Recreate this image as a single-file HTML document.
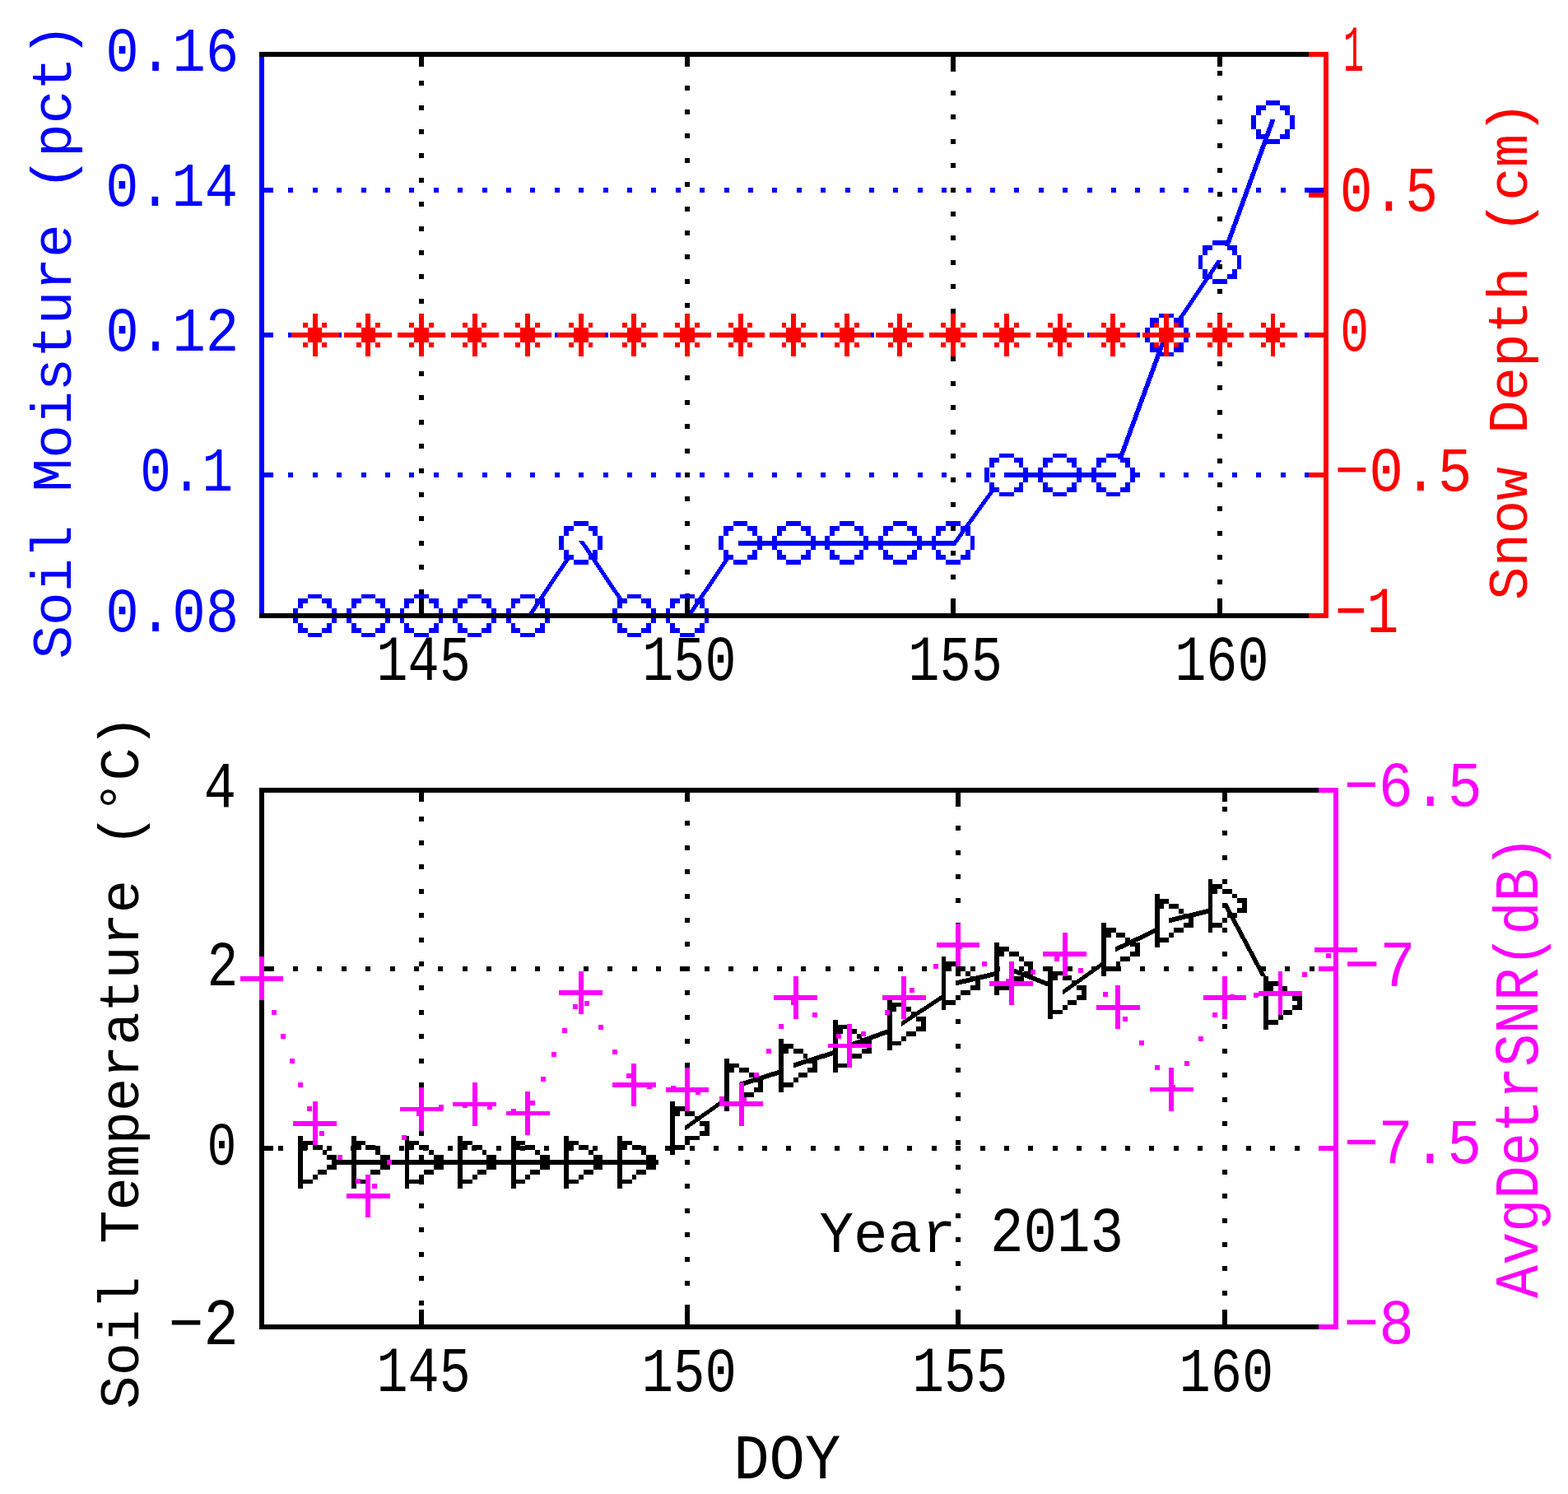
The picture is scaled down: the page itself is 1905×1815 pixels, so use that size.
<!DOCTYPE html><html><head><meta charset="utf-8"><title>Soil moisture / snow depth / soil temperature</title>
<style>html,body{margin:0;padding:0;background:#fff;overflow:hidden}svg{display:block}text{font-family:"Liberation Mono","DejaVu Sans Mono",monospace}</style></head><body>
<svg width="1905" height="1815" viewBox="0 0 1905 1815" shape-rendering="crispEdges">
<rect width="1905" height="1815" fill="#fff"/>
<line x1="512" y1="69" x2="512" y2="745" stroke="#000" stroke-width="6" stroke-dasharray="6 23.4" stroke-dashoffset="0.2"/>
<line x1="835" y1="69" x2="835" y2="745" stroke="#000" stroke-width="6" stroke-dasharray="6 23.4" stroke-dashoffset="-5.2"/>
<line x1="1158" y1="69" x2="1158" y2="745" stroke="#000" stroke-width="6" stroke-dasharray="6 23.4" stroke-dashoffset="-11.5"/>
<line x1="1482" y1="69" x2="1482" y2="745" stroke="#000" stroke-width="6" stroke-dasharray="6 23.4" stroke-dashoffset="-17.2"/>
<line x1="321" y1="231" x2="1608" y2="231" stroke="#0000ff" stroke-width="6" stroke-dasharray="6 23.4" stroke-dashoffset="0"/>
<line x1="321" y1="407" x2="1608" y2="407" stroke="#0000ff" stroke-width="6" stroke-dasharray="6 23.4" stroke-dashoffset="0"/>
<line x1="321" y1="577" x2="1608" y2="577" stroke="#0000ff" stroke-width="6" stroke-dasharray="6 23.4" stroke-dashoffset="0"/>
<path fill="#0000ff" d="M379.7 745.0L450.3 745.0L450.3 751.0L379.7 751.0zM444.3 745.0L515.0 745.0L515.0 751.0L444.3 751.0zM509.0 745.0L579.6 745.0L579.6 751.0L509.0 751.0zM573.6 745.0L644.2 745.0L644.2 751.0L573.6 751.0zM688.7 675.9L694.7 675.9L644.2 751.0L638.2 751.0zM702.8 656.5L708.8 656.5L759.3 731.6L753.3 731.6zM767.4 745.0L838.0 745.0L838.0 751.0L767.4 751.0zM882.5 675.9L888.5 675.9L838.0 751.0L832.0 751.0zM896.6 656.5L967.2 656.5L967.2 662.5L896.6 662.5zM961.2 656.5L1031.8 656.5L1031.8 662.5L961.2 662.5zM1025.8 656.5L1096.4 656.5L1096.4 662.5L1025.8 662.5zM1090.4 656.5L1161.0 656.5L1161.0 662.5L1090.4 662.5zM1205.0 592.9L1211.0 592.9L1161.0 662.5L1155.0 662.5zM1219.8 574.0L1290.6 574.0L1290.6 580.0L1219.8 580.0zM1284.6 574.0L1355.4 574.0L1355.4 580.0L1284.6 580.0zM1414.2 404.0L1420.2 404.0L1363.9 557.6L1357.9 557.6zM1479.0 315.5L1485.0 315.5L1434.4 390.6L1428.4 390.6zM1543.5 145.4L1549.5 145.4L1493.5 299.1L1487.5 299.1z"/>
<path fill="#0000ff" d="M374 722h6v5h-6zM380 722h6v5h-6zM386 722h5v5h-5zM362 727h6v6h-6zM368 727h6v6h-6zM391 727h6v6h-6zM397 727h6v6h-6zM362 733h6v6h-6zM397 733h6v6h-6zM356 739h6v6h-6zM403 739h6v6h-6zM356 745h6v6h-6zM403 745h6v6h-6zM356 751h6v6h-6zM403 751h6v6h-6zM362 757h6v6h-6zM397 757h6v6h-6zM362 763h6v6h-6zM368 763h6v6h-6zM391 763h6v6h-6zM397 763h6v6h-6zM374 769h6v5h-6zM380 769h6v5h-6zM386 769h5v5h-5zM439 722h5v5h-5zM444 722h6v5h-6zM450 722h6v5h-6zM427 727h6v6h-6zM433 727h6v6h-6zM456 727h6v6h-6zM462 727h6v6h-6zM427 733h6v6h-6zM462 733h6v6h-6zM421 739h6v6h-6zM468 739h6v6h-6zM421 745h6v6h-6zM468 745h6v6h-6zM421 751h6v6h-6zM468 751h6v6h-6zM427 757h6v6h-6zM462 757h6v6h-6zM427 763h6v6h-6zM433 763h6v6h-6zM456 763h6v6h-6zM462 763h6v6h-6zM439 769h5v5h-5zM444 769h6v5h-6zM450 769h6v5h-6zM503 722h6v5h-6zM509 722h6v5h-6zM515 722h6v5h-6zM491 727h6v6h-6zM497 727h6v6h-6zM521 727h6v6h-6zM527 727h6v6h-6zM491 733h6v6h-6zM527 733h6v6h-6zM486 739h5v6h-5zM533 739h5v6h-5zM486 745h5v6h-5zM533 745h5v6h-5zM486 751h5v6h-5zM533 751h5v6h-5zM491 757h6v6h-6zM527 757h6v6h-6zM491 763h6v6h-6zM497 763h6v6h-6zM521 763h6v6h-6zM527 763h6v6h-6zM503 769h6v5h-6zM509 769h6v5h-6zM515 769h6v5h-6zM568 722h6v5h-6zM574 722h6v5h-6zM580 722h5v5h-5zM556 727h6v6h-6zM562 727h6v6h-6zM585 727h6v6h-6zM591 727h6v6h-6zM556 733h6v6h-6zM591 733h6v6h-6zM550 739h6v6h-6zM597 739h6v6h-6zM550 745h6v6h-6zM597 745h6v6h-6zM550 751h6v6h-6zM597 751h6v6h-6zM556 757h6v6h-6zM591 757h6v6h-6zM556 763h6v6h-6zM562 763h6v6h-6zM585 763h6v6h-6zM591 763h6v6h-6zM568 769h6v5h-6zM574 769h6v5h-6zM580 769h5v5h-5zM632 722h6v5h-6zM638 722h6v5h-6zM644 722h6v5h-6zM621 727h5v6h-5zM626 727h6v6h-6zM650 727h6v6h-6zM656 727h6v6h-6zM621 733h5v6h-5zM656 733h6v6h-6zM615 739h6v6h-6zM662 739h6v6h-6zM615 745h6v6h-6zM662 745h6v6h-6zM615 751h6v6h-6zM662 751h6v6h-6zM621 757h5v6h-5zM656 757h6v6h-6zM621 763h5v6h-5zM626 763h6v6h-6zM650 763h6v6h-6zM656 763h6v6h-6zM632 769h6v5h-6zM638 769h6v5h-6zM644 769h6v5h-6zM697 633h6v6h-6zM703 633h6v6h-6zM709 633h6v6h-6zM685 639h6v6h-6zM691 639h6v6h-6zM715 639h5v6h-5zM720 639h6v6h-6zM685 645h6v6h-6zM720 645h6v6h-6zM679 651h6v6h-6zM726 651h6v6h-6zM679 657h6v5h-6zM726 657h6v5h-6zM679 662h6v6h-6zM726 662h6v6h-6zM685 668h6v6h-6zM720 668h6v6h-6zM685 674h6v6h-6zM691 674h6v6h-6zM715 674h5v6h-5zM720 674h6v6h-6zM697 680h6v6h-6zM703 680h6v6h-6zM709 680h6v6h-6zM762 722h5v5h-5zM767 722h6v5h-6zM773 722h6v5h-6zM750 727h6v6h-6zM756 727h6v6h-6zM779 727h6v6h-6zM785 727h6v6h-6zM750 733h6v6h-6zM785 733h6v6h-6zM744 739h6v6h-6zM791 739h6v6h-6zM744 745h6v6h-6zM791 745h6v6h-6zM744 751h6v6h-6zM791 751h6v6h-6zM750 757h6v6h-6zM785 757h6v6h-6zM750 763h6v6h-6zM756 763h6v6h-6zM779 763h6v6h-6zM785 763h6v6h-6zM762 769h5v5h-5zM767 769h6v5h-6zM773 769h6v5h-6zM826 722h6v5h-6zM832 722h6v5h-6zM838 722h6v5h-6zM814 727h6v6h-6zM820 727h6v6h-6zM844 727h6v6h-6zM850 727h6v6h-6zM814 733h6v6h-6zM850 733h6v6h-6zM809 739h5v6h-5zM856 739h5v6h-5zM809 745h5v6h-5zM856 745h5v6h-5zM809 751h5v6h-5zM856 751h5v6h-5zM814 757h6v6h-6zM850 757h6v6h-6zM814 763h6v6h-6zM820 763h6v6h-6zM844 763h6v6h-6zM850 763h6v6h-6zM826 769h6v5h-6zM832 769h6v5h-6zM838 769h6v5h-6zM891 633h6v6h-6zM897 633h6v6h-6zM903 633h5v6h-5zM879 639h6v6h-6zM885 639h6v6h-6zM908 639h6v6h-6zM914 639h6v6h-6zM879 645h6v6h-6zM914 645h6v6h-6zM873 651h6v6h-6zM920 651h6v6h-6zM873 657h6v5h-6zM920 657h6v5h-6zM873 662h6v6h-6zM920 662h6v6h-6zM879 668h6v6h-6zM914 668h6v6h-6zM879 674h6v6h-6zM885 674h6v6h-6zM908 674h6v6h-6zM914 674h6v6h-6zM891 680h6v6h-6zM897 680h6v6h-6zM903 680h5v6h-5zM955 633h6v6h-6zM961 633h6v6h-6zM967 633h6v6h-6zM944 639h6v6h-6zM950 639h5v6h-5zM973 639h6v6h-6zM979 639h6v6h-6zM944 645h6v6h-6zM979 645h6v6h-6zM938 651h6v6h-6zM985 651h6v6h-6zM938 657h6v5h-6zM985 657h6v5h-6zM938 662h6v6h-6zM985 662h6v6h-6zM944 668h6v6h-6zM979 668h6v6h-6zM944 674h6v6h-6zM950 674h5v6h-5zM973 674h6v6h-6zM979 674h6v6h-6zM955 680h6v6h-6zM961 680h6v6h-6zM967 680h6v6h-6zM1020 633h6v6h-6zM1026 633h6v6h-6zM1032 633h6v6h-6zM1008 639h6v6h-6zM1014 639h6v6h-6zM1038 639h6v6h-6zM1044 639h5v6h-5zM1008 645h6v6h-6zM1044 645h5v6h-5zM1002 651h6v6h-6zM1049 651h6v6h-6zM1002 657h6v5h-6zM1049 657h6v5h-6zM1002 662h6v6h-6zM1049 662h6v6h-6zM1008 668h6v6h-6zM1044 668h5v6h-5zM1008 674h6v6h-6zM1014 674h6v6h-6zM1038 674h6v6h-6zM1044 674h5v6h-5zM1020 680h6v6h-6zM1026 680h6v6h-6zM1032 680h6v6h-6zM1085 633h5v6h-5zM1090 633h6v6h-6zM1096 633h6v6h-6zM1073 639h6v6h-6zM1079 639h6v6h-6zM1102 639h6v6h-6zM1108 639h6v6h-6zM1073 645h6v6h-6zM1108 645h6v6h-6zM1067 651h6v6h-6zM1114 651h6v6h-6zM1067 657h6v5h-6zM1114 657h6v5h-6zM1067 662h6v6h-6zM1114 662h6v6h-6zM1073 668h6v6h-6zM1108 668h6v6h-6zM1073 674h6v6h-6zM1079 674h6v6h-6zM1102 674h6v6h-6zM1108 674h6v6h-6zM1085 680h5v6h-5zM1090 680h6v6h-6zM1096 680h6v6h-6zM1149 633h6v6h-6zM1155 633h6v6h-6zM1161 633h6v6h-6zM1137 639h6v6h-6zM1143 639h6v6h-6zM1167 639h6v6h-6zM1173 639h6v6h-6zM1137 645h6v6h-6zM1173 645h6v6h-6zM1132 651h5v6h-5zM1179 651h5v6h-5zM1132 657h5v5h-5zM1179 657h5v5h-5zM1132 662h5v6h-5zM1179 662h5v6h-5zM1137 668h6v6h-6zM1173 668h6v6h-6zM1137 674h6v6h-6zM1143 674h6v6h-6zM1167 674h6v6h-6zM1173 674h6v6h-6zM1149 680h6v6h-6zM1155 680h6v6h-6zM1161 680h6v6h-6zM1214 551h6v5h-6zM1220 551h6v5h-6zM1226 551h6v5h-6zM1202 556h6v6h-6zM1208 556h6v6h-6zM1232 556h6v6h-6zM1238 556h5v6h-5zM1202 562h6v6h-6zM1238 562h5v6h-5zM1196 568h6v6h-6zM1243 568h6v6h-6zM1196 574h6v6h-6zM1243 574h6v6h-6zM1196 580h6v6h-6zM1243 580h6v6h-6zM1202 586h6v6h-6zM1238 586h5v6h-5zM1202 592h6v6h-6zM1208 592h6v6h-6zM1232 592h6v6h-6zM1238 592h5v6h-5zM1214 598h6v5h-6zM1220 598h6v5h-6zM1226 598h6v5h-6zM1279 551h6v5h-6zM1285 551h6v5h-6zM1291 551h5v5h-5zM1267 556h6v6h-6zM1273 556h6v6h-6zM1296 556h6v6h-6zM1302 556h6v6h-6zM1267 562h6v6h-6zM1302 562h6v6h-6zM1261 568h6v6h-6zM1308 568h6v6h-6zM1261 574h6v6h-6zM1308 574h6v6h-6zM1261 580h6v6h-6zM1308 580h6v6h-6zM1267 586h6v6h-6zM1302 586h6v6h-6zM1267 592h6v6h-6zM1273 592h6v6h-6zM1296 592h6v6h-6zM1302 592h6v6h-6zM1279 598h6v5h-6zM1285 598h6v5h-6zM1291 598h5v5h-5zM1344 551h5v5h-5zM1349 551h6v5h-6zM1355 551h6v5h-6zM1332 556h6v6h-6zM1338 556h6v6h-6zM1361 556h6v6h-6zM1367 556h6v6h-6zM1332 562h6v6h-6zM1367 562h6v6h-6zM1326 568h6v6h-6zM1373 568h6v6h-6zM1326 574h6v6h-6zM1373 574h6v6h-6zM1326 580h6v6h-6zM1373 580h6v6h-6zM1332 586h6v6h-6zM1367 586h6v6h-6zM1332 592h6v6h-6zM1338 592h6v6h-6zM1361 592h6v6h-6zM1367 592h6v6h-6zM1344 598h5v5h-5zM1349 598h6v5h-6zM1355 598h6v5h-6zM1408 381h6v5h-6zM1414 381h6v5h-6zM1420 381h6v5h-6zM1397 386h5v6h-5zM1402 386h6v6h-6zM1426 386h6v6h-6zM1432 386h6v6h-6zM1397 392h5v6h-5zM1432 392h6v6h-6zM1391 398h6v6h-6zM1438 398h6v6h-6zM1391 404h6v6h-6zM1438 404h6v6h-6zM1391 410h6v6h-6zM1438 410h6v6h-6zM1397 416h5v6h-5zM1432 416h6v6h-6zM1397 422h5v6h-5zM1402 422h6v6h-6zM1426 422h6v6h-6zM1432 422h6v6h-6zM1408 428h6v5h-6zM1414 428h6v5h-6zM1420 428h6v5h-6zM1473 292h6v6h-6zM1479 292h6v6h-6zM1485 292h6v6h-6zM1461 298h6v6h-6zM1467 298h6v6h-6zM1491 298h6v6h-6zM1497 298h6v6h-6zM1461 304h6v6h-6zM1497 304h6v6h-6zM1456 310h5v6h-5zM1503 310h5v6h-5zM1456 316h5v5h-5zM1503 316h5v5h-5zM1456 321h5v6h-5zM1503 321h5v6h-5zM1461 327h6v6h-6zM1497 327h6v6h-6zM1461 333h6v6h-6zM1467 333h6v6h-6zM1491 333h6v6h-6zM1497 333h6v6h-6zM1473 339h6v6h-6zM1479 339h6v6h-6zM1485 339h6v6h-6zM1538 122h6v6h-6zM1544 122h5v6h-5zM1549 122h6v6h-6zM1526 128h6v6h-6zM1532 128h6v6h-6zM1555 128h6v6h-6zM1561 128h6v6h-6zM1526 134h6v6h-6zM1561 134h6v6h-6zM1520 140h6v5h-6zM1567 140h6v5h-6zM1520 145h6v6h-6zM1567 145h6v6h-6zM1520 151h6v6h-6zM1567 151h6v6h-6zM1526 157h6v6h-6zM1561 157h6v6h-6zM1526 163h6v6h-6zM1532 163h6v6h-6zM1555 163h6v6h-6zM1561 163h6v6h-6zM1538 169h6v6h-6zM1544 169h5v6h-5zM1549 169h6v6h-6z"/>
<rect x="315" y="69" width="6" height="676" fill="#0000ff"/>
<rect x="509" y="727" width="6" height="18" fill="#000"/>
<rect x="509" y="69" width="6" height="12" fill="#000"/>
<rect x="832" y="727" width="6" height="18" fill="#000"/>
<rect x="832" y="69" width="6" height="12" fill="#000"/>
<rect x="1155" y="727" width="6" height="18" fill="#000"/>
<rect x="1155" y="69" width="6" height="12" fill="#000"/>
<rect x="1479" y="727" width="6" height="18" fill="#000"/>
<rect x="1479" y="69" width="6" height="12" fill="#000"/>
<rect x="321" y="63" width="11" height="6" fill="#0000ff"/>
<rect x="1585" y="63" width="23" height="6" fill="#0000ff"/>
<rect x="321" y="228" width="11" height="6" fill="#0000ff"/>
<rect x="1585" y="228" width="23" height="6" fill="#0000ff"/>
<rect x="321" y="404" width="11" height="6" fill="#0000ff"/>
<rect x="1585" y="404" width="23" height="6" fill="#0000ff"/>
<rect x="321" y="574" width="11" height="6" fill="#0000ff"/>
<rect x="1585" y="574" width="23" height="6" fill="#0000ff"/>
<rect x="321" y="745" width="11" height="6" fill="#0000ff"/>
<rect x="1585" y="745" width="23" height="6" fill="#0000ff"/>
<rect x="315" y="63" width="1299" height="6" fill="#000"/>
<rect x="315" y="745" width="1299" height="6" fill="#000"/>
<path fill="#ff0000" d="M380 381h6v5h-6zM380 386h6v6h-6zM368 392h6v6h-6zM380 392h6v6h-6zM391 392h6v6h-6zM374 398h6v6h-6zM380 398h6v6h-6zM386 398h5v6h-5zM356 404h6v6h-6zM362 404h6v6h-6zM368 404h6v6h-6zM374 404h6v6h-6zM380 404h6v6h-6zM386 404h5v6h-5zM391 404h6v6h-6zM397 404h6v6h-6zM403 404h6v6h-6zM374 410h6v6h-6zM380 410h6v6h-6zM386 410h5v6h-5zM368 416h6v6h-6zM380 416h6v6h-6zM391 416h6v6h-6zM380 422h6v6h-6zM380 428h6v5h-6zM444 381h6v5h-6zM444 386h6v6h-6zM433 392h6v6h-6zM444 392h6v6h-6zM456 392h6v6h-6zM439 398h5v6h-5zM444 398h6v6h-6zM450 398h6v6h-6zM421 404h6v6h-6zM427 404h6v6h-6zM433 404h6v6h-6zM439 404h5v6h-5zM444 404h6v6h-6zM450 404h6v6h-6zM456 404h6v6h-6zM462 404h6v6h-6zM468 404h6v6h-6zM439 410h5v6h-5zM444 410h6v6h-6zM450 410h6v6h-6zM433 416h6v6h-6zM444 416h6v6h-6zM456 416h6v6h-6zM444 422h6v6h-6zM444 428h6v5h-6zM509 381h6v5h-6zM509 386h6v6h-6zM497 392h6v6h-6zM509 392h6v6h-6zM521 392h6v6h-6zM503 398h6v6h-6zM509 398h6v6h-6zM515 398h6v6h-6zM486 404h5v6h-5zM491 404h6v6h-6zM497 404h6v6h-6zM503 404h6v6h-6zM509 404h6v6h-6zM515 404h6v6h-6zM521 404h6v6h-6zM527 404h6v6h-6zM533 404h5v6h-5zM503 410h6v6h-6zM509 410h6v6h-6zM515 410h6v6h-6zM497 416h6v6h-6zM509 416h6v6h-6zM521 416h6v6h-6zM509 422h6v6h-6zM509 428h6v5h-6zM574 381h6v5h-6zM574 386h6v6h-6zM562 392h6v6h-6zM574 392h6v6h-6zM585 392h6v6h-6zM568 398h6v6h-6zM574 398h6v6h-6zM580 398h5v6h-5zM550 404h6v6h-6zM556 404h6v6h-6zM562 404h6v6h-6zM568 404h6v6h-6zM574 404h6v6h-6zM580 404h5v6h-5zM585 404h6v6h-6zM591 404h6v6h-6zM597 404h6v6h-6zM568 410h6v6h-6zM574 410h6v6h-6zM580 410h5v6h-5zM562 416h6v6h-6zM574 416h6v6h-6zM585 416h6v6h-6zM574 422h6v6h-6zM574 428h6v5h-6zM638 381h6v5h-6zM638 386h6v6h-6zM626 392h6v6h-6zM638 392h6v6h-6zM650 392h6v6h-6zM632 398h6v6h-6zM638 398h6v6h-6zM644 398h6v6h-6zM615 404h6v6h-6zM621 404h5v6h-5zM626 404h6v6h-6zM632 404h6v6h-6zM638 404h6v6h-6zM644 404h6v6h-6zM650 404h6v6h-6zM656 404h6v6h-6zM662 404h6v6h-6zM632 410h6v6h-6zM638 410h6v6h-6zM644 410h6v6h-6zM626 416h6v6h-6zM638 416h6v6h-6zM650 416h6v6h-6zM638 422h6v6h-6zM638 428h6v5h-6zM703 381h6v5h-6zM703 386h6v6h-6zM691 392h6v6h-6zM703 392h6v6h-6zM715 392h5v6h-5zM697 398h6v6h-6zM703 398h6v6h-6zM709 398h6v6h-6zM679 404h6v6h-6zM685 404h6v6h-6zM691 404h6v6h-6zM697 404h6v6h-6zM703 404h6v6h-6zM709 404h6v6h-6zM715 404h5v6h-5zM720 404h6v6h-6zM726 404h6v6h-6zM697 410h6v6h-6zM703 410h6v6h-6zM709 410h6v6h-6zM691 416h6v6h-6zM703 416h6v6h-6zM715 416h5v6h-5zM703 422h6v6h-6zM703 428h6v5h-6zM767 381h6v5h-6zM767 386h6v6h-6zM756 392h6v6h-6zM767 392h6v6h-6zM779 392h6v6h-6zM762 398h5v6h-5zM767 398h6v6h-6zM773 398h6v6h-6zM744 404h6v6h-6zM750 404h6v6h-6zM756 404h6v6h-6zM762 404h5v6h-5zM767 404h6v6h-6zM773 404h6v6h-6zM779 404h6v6h-6zM785 404h6v6h-6zM791 404h6v6h-6zM762 410h5v6h-5zM767 410h6v6h-6zM773 410h6v6h-6zM756 416h6v6h-6zM767 416h6v6h-6zM779 416h6v6h-6zM767 422h6v6h-6zM767 428h6v5h-6zM832 381h6v5h-6zM832 386h6v6h-6zM820 392h6v6h-6zM832 392h6v6h-6zM844 392h6v6h-6zM826 398h6v6h-6zM832 398h6v6h-6zM838 398h6v6h-6zM809 404h5v6h-5zM814 404h6v6h-6zM820 404h6v6h-6zM826 404h6v6h-6zM832 404h6v6h-6zM838 404h6v6h-6zM844 404h6v6h-6zM850 404h6v6h-6zM856 404h5v6h-5zM826 410h6v6h-6zM832 410h6v6h-6zM838 410h6v6h-6zM820 416h6v6h-6zM832 416h6v6h-6zM844 416h6v6h-6zM832 422h6v6h-6zM832 428h6v5h-6zM897 381h6v5h-6zM897 386h6v6h-6zM885 392h6v6h-6zM897 392h6v6h-6zM908 392h6v6h-6zM891 398h6v6h-6zM897 398h6v6h-6zM903 398h5v6h-5zM873 404h6v6h-6zM879 404h6v6h-6zM885 404h6v6h-6zM891 404h6v6h-6zM897 404h6v6h-6zM903 404h5v6h-5zM908 404h6v6h-6zM914 404h6v6h-6zM920 404h6v6h-6zM891 410h6v6h-6zM897 410h6v6h-6zM903 410h5v6h-5zM885 416h6v6h-6zM897 416h6v6h-6zM908 416h6v6h-6zM897 422h6v6h-6zM897 428h6v5h-6zM961 381h6v5h-6zM961 386h6v6h-6zM950 392h5v6h-5zM961 392h6v6h-6zM973 392h6v6h-6zM955 398h6v6h-6zM961 398h6v6h-6zM967 398h6v6h-6zM938 404h6v6h-6zM944 404h6v6h-6zM950 404h5v6h-5zM955 404h6v6h-6zM961 404h6v6h-6zM967 404h6v6h-6zM973 404h6v6h-6zM979 404h6v6h-6zM985 404h6v6h-6zM955 410h6v6h-6zM961 410h6v6h-6zM967 410h6v6h-6zM950 416h5v6h-5zM961 416h6v6h-6zM973 416h6v6h-6zM961 422h6v6h-6zM961 428h6v5h-6zM1026 381h6v5h-6zM1026 386h6v6h-6zM1014 392h6v6h-6zM1026 392h6v6h-6zM1038 392h6v6h-6zM1020 398h6v6h-6zM1026 398h6v6h-6zM1032 398h6v6h-6zM1002 404h6v6h-6zM1008 404h6v6h-6zM1014 404h6v6h-6zM1020 404h6v6h-6zM1026 404h6v6h-6zM1032 404h6v6h-6zM1038 404h6v6h-6zM1044 404h5v6h-5zM1049 404h6v6h-6zM1020 410h6v6h-6zM1026 410h6v6h-6zM1032 410h6v6h-6zM1014 416h6v6h-6zM1026 416h6v6h-6zM1038 416h6v6h-6zM1026 422h6v6h-6zM1026 428h6v5h-6zM1090 381h6v5h-6zM1090 386h6v6h-6zM1079 392h6v6h-6zM1090 392h6v6h-6zM1102 392h6v6h-6zM1085 398h5v6h-5zM1090 398h6v6h-6zM1096 398h6v6h-6zM1067 404h6v6h-6zM1073 404h6v6h-6zM1079 404h6v6h-6zM1085 404h5v6h-5zM1090 404h6v6h-6zM1096 404h6v6h-6zM1102 404h6v6h-6zM1108 404h6v6h-6zM1114 404h6v6h-6zM1085 410h5v6h-5zM1090 410h6v6h-6zM1096 410h6v6h-6zM1079 416h6v6h-6zM1090 416h6v6h-6zM1102 416h6v6h-6zM1090 422h6v6h-6zM1090 428h6v5h-6zM1155 381h6v5h-6zM1155 386h6v6h-6zM1143 392h6v6h-6zM1155 392h6v6h-6zM1167 392h6v6h-6zM1149 398h6v6h-6zM1155 398h6v6h-6zM1161 398h6v6h-6zM1132 404h5v6h-5zM1137 404h6v6h-6zM1143 404h6v6h-6zM1149 404h6v6h-6zM1155 404h6v6h-6zM1161 404h6v6h-6zM1167 404h6v6h-6zM1173 404h6v6h-6zM1179 404h5v6h-5zM1149 410h6v6h-6zM1155 410h6v6h-6zM1161 410h6v6h-6zM1143 416h6v6h-6zM1155 416h6v6h-6zM1167 416h6v6h-6zM1155 422h6v6h-6zM1155 428h6v5h-6zM1220 381h6v5h-6zM1220 386h6v6h-6zM1208 392h6v6h-6zM1220 392h6v6h-6zM1232 392h6v6h-6zM1214 398h6v6h-6zM1220 398h6v6h-6zM1226 398h6v6h-6zM1196 404h6v6h-6zM1202 404h6v6h-6zM1208 404h6v6h-6zM1214 404h6v6h-6zM1220 404h6v6h-6zM1226 404h6v6h-6zM1232 404h6v6h-6zM1238 404h5v6h-5zM1243 404h6v6h-6zM1214 410h6v6h-6zM1220 410h6v6h-6zM1226 410h6v6h-6zM1208 416h6v6h-6zM1220 416h6v6h-6zM1232 416h6v6h-6zM1220 422h6v6h-6zM1220 428h6v5h-6zM1285 381h6v5h-6zM1285 386h6v6h-6zM1273 392h6v6h-6zM1285 392h6v6h-6zM1296 392h6v6h-6zM1279 398h6v6h-6zM1285 398h6v6h-6zM1291 398h5v6h-5zM1261 404h6v6h-6zM1267 404h6v6h-6zM1273 404h6v6h-6zM1279 404h6v6h-6zM1285 404h6v6h-6zM1291 404h5v6h-5zM1296 404h6v6h-6zM1302 404h6v6h-6zM1308 404h6v6h-6zM1279 410h6v6h-6zM1285 410h6v6h-6zM1291 410h5v6h-5zM1273 416h6v6h-6zM1285 416h6v6h-6zM1296 416h6v6h-6zM1285 422h6v6h-6zM1285 428h6v5h-6zM1349 381h6v5h-6zM1349 386h6v6h-6zM1338 392h6v6h-6zM1349 392h6v6h-6zM1361 392h6v6h-6zM1344 398h5v6h-5zM1349 398h6v6h-6zM1355 398h6v6h-6zM1326 404h6v6h-6zM1332 404h6v6h-6zM1338 404h6v6h-6zM1344 404h5v6h-5zM1349 404h6v6h-6zM1355 404h6v6h-6zM1361 404h6v6h-6zM1367 404h6v6h-6zM1373 404h6v6h-6zM1344 410h5v6h-5zM1349 410h6v6h-6zM1355 410h6v6h-6zM1338 416h6v6h-6zM1349 416h6v6h-6zM1361 416h6v6h-6zM1349 422h6v6h-6zM1349 428h6v5h-6zM1414 381h6v5h-6zM1414 386h6v6h-6zM1402 392h6v6h-6zM1414 392h6v6h-6zM1426 392h6v6h-6zM1408 398h6v6h-6zM1414 398h6v6h-6zM1420 398h6v6h-6zM1391 404h6v6h-6zM1397 404h5v6h-5zM1402 404h6v6h-6zM1408 404h6v6h-6zM1414 404h6v6h-6zM1420 404h6v6h-6zM1426 404h6v6h-6zM1432 404h6v6h-6zM1438 404h6v6h-6zM1408 410h6v6h-6zM1414 410h6v6h-6zM1420 410h6v6h-6zM1402 416h6v6h-6zM1414 416h6v6h-6zM1426 416h6v6h-6zM1414 422h6v6h-6zM1414 428h6v5h-6zM1479 381h6v5h-6zM1479 386h6v6h-6zM1467 392h6v6h-6zM1479 392h6v6h-6zM1491 392h6v6h-6zM1473 398h6v6h-6zM1479 398h6v6h-6zM1485 398h6v6h-6zM1456 404h5v6h-5zM1461 404h6v6h-6zM1467 404h6v6h-6zM1473 404h6v6h-6zM1479 404h6v6h-6zM1485 404h6v6h-6zM1491 404h6v6h-6zM1497 404h6v6h-6zM1503 404h5v6h-5zM1473 410h6v6h-6zM1479 410h6v6h-6zM1485 410h6v6h-6zM1467 416h6v6h-6zM1479 416h6v6h-6zM1491 416h6v6h-6zM1479 422h6v6h-6zM1479 428h6v5h-6zM1544 381h5v5h-5zM1544 386h5v6h-5zM1532 392h6v6h-6zM1544 392h5v6h-5zM1555 392h6v6h-6zM1538 398h6v6h-6zM1544 398h5v6h-5zM1549 398h6v6h-6zM1520 404h6v6h-6zM1526 404h6v6h-6zM1532 404h6v6h-6zM1538 404h6v6h-6zM1544 404h5v6h-5zM1549 404h6v6h-6zM1555 404h6v6h-6zM1561 404h6v6h-6zM1567 404h6v6h-6zM1538 410h6v6h-6zM1544 410h5v6h-5zM1549 410h6v6h-6zM1532 416h6v6h-6zM1544 416h5v6h-5zM1555 416h6v6h-6zM1544 422h5v6h-5zM1544 428h5v5h-5z"/>
<path fill="#ff0000" d="M354 404h58v6h-58zM418 404h58v6h-58zM483 404h58v6h-58zM548 404h58v6h-58zM612 404h58v6h-58zM677 404h58v6h-58zM741 404h58v6h-58zM806 404h58v6h-58zM871 404h58v6h-58zM935 404h58v6h-58zM1000 404h58v6h-58zM1064 404h58v6h-58zM1129 404h58v6h-58zM1194 404h58v6h-58zM1259 404h58v6h-58zM1323 404h58v6h-58zM1388 404h58v6h-58zM1453 404h58v6h-58zM1518 404h58v6h-58z"/>
<rect x="1608" y="63" width="6" height="688" fill="#ff0000"/>
<rect x="1590" y="63" width="18" height="6" fill="#ff0000"/>
<rect x="1590" y="234" width="18" height="6" fill="#ff0000"/>
<rect x="1590" y="404" width="18" height="6" fill="#ff0000"/>
<rect x="1590" y="574" width="18" height="6" fill="#ff0000"/>
<rect x="1590" y="745" width="18" height="6" fill="#ff0000"/>
<line x1="512" y1="963" x2="512" y2="1609" stroke="#000" stroke-width="6" stroke-dasharray="6 23.4" stroke-dashoffset="0.8"/>
<line x1="835" y1="963" x2="835" y2="1609" stroke="#000" stroke-width="6" stroke-dasharray="6 23.4" stroke-dashoffset="-5"/>
<line x1="1164" y1="963" x2="1164" y2="1609" stroke="#000" stroke-width="6" stroke-dasharray="6 23.4" stroke-dashoffset="-10.8"/>
<line x1="1488" y1="963" x2="1488" y2="1609" stroke="#000" stroke-width="6" stroke-dasharray="6 23.4" stroke-dashoffset="-16.8"/>
<line x1="321" y1="1177" x2="1620" y2="1177" stroke="#000" stroke-width="6" stroke-dasharray="6 23.4" stroke-dashoffset="-5.5"/>
<line x1="321" y1="1395" x2="1620" y2="1395" stroke="#000" stroke-width="6" stroke-dasharray="6 23.4" stroke-dashoffset="-17"/>
<path fill="#000" d="M406.2 1409.0L799.9 1409.0L799.9 1415.0L406.2 1415.0zM832.0 1367.7L883.3 1331.4L883.3 1337.4L832.0 1373.7zM897.8 1315.0L949.1 1298.8L949.1 1304.8L897.8 1321.0zM963.6 1291.5L1014.9 1275.3L1014.9 1281.3L963.6 1297.5zM1029.4 1268.0L1080.7 1249.4L1080.7 1255.4L1029.4 1274.0zM1095.2 1241.0L1146.5 1206.9L1146.5 1212.9L1095.2 1247.0zM1161.0 1191.5L1211.3 1179.5L1211.3 1185.5L1161.0 1197.5zM1225.8 1173.9L1276.1 1193.8L1276.1 1199.8L1225.8 1179.9zM1290.6 1203.0L1340.9 1167.0L1340.9 1173.0L1290.6 1209.0zM1355.4 1150.4L1405.7 1126.5L1405.7 1132.5L1355.4 1156.4zM1420.2 1115.5L1470.5 1103.1L1470.5 1109.1L1420.2 1121.5zM1485.0 1097.3L1491.0 1097.3L1538.0 1185.6L1532.0 1185.6z"/>
<path fill="#000" d="M362 1380h6v6h-6zM362 1386h6v5h-6zM368 1386h6v5h-6zM374 1386h6v5h-6zM362 1391h6v6h-6zM368 1391h6v6h-6zM380 1391h6v6h-6zM386 1391h6v6h-6zM362 1397h6v6h-6zM392 1397h5v6h-5zM362 1403h6v6h-6zM397 1403h6v6h-6zM403 1403h6v6h-6zM362 1409h6v6h-6zM403 1409h6v6h-6zM362 1415h6v6h-6zM397 1415h6v6h-6zM403 1415h6v6h-6zM362 1421h6v6h-6zM386 1421h6v6h-6zM392 1421h5v6h-5zM362 1427h6v6h-6zM380 1427h6v6h-6zM362 1433h6v5h-6zM368 1433h6v5h-6zM374 1433h6v5h-6zM362 1438h6v6h-6zM427 1380h6v6h-6zM427 1386h6v5h-6zM433 1386h6v5h-6zM439 1386h5v5h-5zM427 1391h6v6h-6zM433 1391h6v6h-6zM444 1391h6v6h-6zM450 1391h6v6h-6zM427 1397h6v6h-6zM456 1397h6v6h-6zM427 1403h6v6h-6zM462 1403h6v6h-6zM468 1403h6v6h-6zM427 1409h6v6h-6zM468 1409h6v6h-6zM427 1415h6v6h-6zM462 1415h6v6h-6zM468 1415h6v6h-6zM427 1421h6v6h-6zM450 1421h6v6h-6zM456 1421h6v6h-6zM427 1427h6v6h-6zM444 1427h6v6h-6zM427 1433h6v5h-6zM433 1433h6v5h-6zM439 1433h5v5h-5zM427 1438h6v6h-6zM492 1380h5v6h-5zM492 1386h5v5h-5zM497 1386h6v5h-6zM503 1386h6v5h-6zM492 1391h5v6h-5zM497 1391h6v6h-6zM509 1391h6v6h-6zM515 1391h6v6h-6zM492 1397h5v6h-5zM521 1397h6v6h-6zM492 1403h5v6h-5zM527 1403h6v6h-6zM533 1403h6v6h-6zM492 1409h5v6h-5zM533 1409h6v6h-6zM492 1415h5v6h-5zM527 1415h6v6h-6zM533 1415h6v6h-6zM492 1421h5v6h-5zM515 1421h6v6h-6zM521 1421h6v6h-6zM492 1427h5v6h-5zM509 1427h6v6h-6zM492 1433h5v5h-5zM497 1433h6v5h-6zM503 1433h6v5h-6zM492 1438h5v6h-5zM556 1380h6v6h-6zM556 1386h6v5h-6zM562 1386h6v5h-6zM568 1386h6v5h-6zM556 1391h6v6h-6zM562 1391h6v6h-6zM574 1391h6v6h-6zM580 1391h6v6h-6zM556 1397h6v6h-6zM586 1397h5v6h-5zM556 1403h6v6h-6zM591 1403h6v6h-6zM597 1403h6v6h-6zM556 1409h6v6h-6zM597 1409h6v6h-6zM556 1415h6v6h-6zM591 1415h6v6h-6zM597 1415h6v6h-6zM556 1421h6v6h-6zM580 1421h6v6h-6zM586 1421h5v6h-5zM556 1427h6v6h-6zM574 1427h6v6h-6zM556 1433h6v5h-6zM562 1433h6v5h-6zM568 1433h6v5h-6zM556 1438h6v6h-6zM621 1380h6v6h-6zM621 1386h6v5h-6zM627 1386h5v5h-5zM632 1386h6v5h-6zM621 1391h6v6h-6zM627 1391h5v6h-5zM638 1391h6v6h-6zM644 1391h6v6h-6zM621 1397h6v6h-6zM650 1397h6v6h-6zM621 1403h6v6h-6zM656 1403h6v6h-6zM662 1403h6v6h-6zM621 1409h6v6h-6zM662 1409h6v6h-6zM621 1415h6v6h-6zM656 1415h6v6h-6zM662 1415h6v6h-6zM621 1421h6v6h-6zM644 1421h6v6h-6zM650 1421h6v6h-6zM621 1427h6v6h-6zM638 1427h6v6h-6zM621 1433h6v5h-6zM627 1433h5v5h-5zM632 1433h6v5h-6zM621 1438h6v6h-6zM685 1380h6v6h-6zM685 1386h6v5h-6zM691 1386h6v5h-6zM697 1386h6v5h-6zM685 1391h6v6h-6zM691 1391h6v6h-6zM703 1391h6v6h-6zM709 1391h6v6h-6zM685 1397h6v6h-6zM715 1397h6v6h-6zM685 1403h6v6h-6zM721 1403h5v6h-5zM726 1403h6v6h-6zM685 1409h6v6h-6zM726 1409h6v6h-6zM685 1415h6v6h-6zM721 1415h5v6h-5zM726 1415h6v6h-6zM685 1421h6v6h-6zM709 1421h6v6h-6zM715 1421h6v6h-6zM685 1427h6v6h-6zM703 1427h6v6h-6zM685 1433h6v5h-6zM691 1433h6v5h-6zM697 1433h6v5h-6zM685 1438h6v6h-6zM750 1380h6v6h-6zM750 1386h6v5h-6zM756 1386h6v5h-6zM762 1386h6v5h-6zM750 1391h6v6h-6zM756 1391h6v6h-6zM768 1391h5v6h-5zM773 1391h6v6h-6zM750 1397h6v6h-6zM779 1397h6v6h-6zM750 1403h6v6h-6zM785 1403h6v6h-6zM791 1403h6v6h-6zM750 1409h6v6h-6zM791 1409h6v6h-6zM750 1415h6v6h-6zM785 1415h6v6h-6zM791 1415h6v6h-6zM750 1421h6v6h-6zM773 1421h6v6h-6zM779 1421h6v6h-6zM750 1427h6v6h-6zM768 1427h5v6h-5zM750 1433h6v5h-6zM756 1433h6v5h-6zM762 1433h6v5h-6zM750 1438h6v6h-6zM814 1338h6v6h-6zM814 1344h6v6h-6zM820 1344h6v6h-6zM826 1344h6v6h-6zM814 1350h6v6h-6zM820 1350h6v6h-6zM832 1350h6v6h-6zM838 1350h6v6h-6zM814 1356h6v6h-6zM844 1356h6v6h-6zM814 1362h6v6h-6zM850 1362h6v6h-6zM856 1362h6v6h-6zM814 1368h6v6h-6zM856 1368h6v6h-6zM814 1374h6v6h-6zM850 1374h6v6h-6zM856 1374h6v6h-6zM814 1380h6v5h-6zM838 1380h6v5h-6zM844 1380h6v5h-6zM814 1385h6v6h-6zM832 1385h6v6h-6zM814 1391h6v6h-6zM820 1391h6v6h-6zM826 1391h6v6h-6zM814 1397h6v6h-6zM880 1286h6v6h-6zM880 1292h6v5h-6zM886 1292h6v5h-6zM892 1292h6v5h-6zM880 1297h6v6h-6zM886 1297h6v6h-6zM898 1297h6v6h-6zM904 1297h6v6h-6zM880 1303h6v6h-6zM910 1303h6v6h-6zM880 1309h6v6h-6zM916 1309h5v6h-5zM921 1309h6v6h-6zM880 1315h6v6h-6zM921 1315h6v6h-6zM880 1321h6v6h-6zM916 1321h5v6h-5zM921 1321h6v6h-6zM880 1327h6v6h-6zM904 1327h6v6h-6zM910 1327h6v6h-6zM880 1333h6v6h-6zM898 1333h6v6h-6zM880 1339h6v5h-6zM886 1339h6v5h-6zM892 1339h6v5h-6zM880 1344h6v6h-6zM946 1262h6v6h-6zM946 1268h6v6h-6zM952 1268h6v6h-6zM958 1268h6v6h-6zM946 1274h6v6h-6zM952 1274h6v6h-6zM964 1274h6v6h-6zM970 1274h6v6h-6zM946 1280h6v6h-6zM976 1280h5v6h-5zM946 1286h6v6h-6zM981 1286h6v6h-6zM987 1286h6v6h-6zM946 1292h6v5h-6zM987 1292h6v5h-6zM946 1297h6v6h-6zM981 1297h6v6h-6zM987 1297h6v6h-6zM946 1303h6v6h-6zM970 1303h6v6h-6zM976 1303h5v6h-5zM946 1309h6v6h-6zM964 1309h6v6h-6zM946 1315h6v6h-6zM952 1315h6v6h-6zM958 1315h6v6h-6zM946 1321h6v6h-6zM1012 1239h6v6h-6zM1012 1245h6v5h-6zM1018 1245h6v5h-6zM1024 1245h6v5h-6zM1012 1250h6v6h-6zM1018 1250h6v6h-6zM1030 1250h5v6h-5zM1035 1250h6v6h-6zM1012 1256h6v6h-6zM1041 1256h6v6h-6zM1012 1262h6v6h-6zM1047 1262h6v6h-6zM1053 1262h6v6h-6zM1012 1268h6v6h-6zM1053 1268h6v6h-6zM1012 1274h6v6h-6zM1047 1274h6v6h-6zM1053 1274h6v6h-6zM1012 1280h6v6h-6zM1035 1280h6v6h-6zM1041 1280h6v6h-6zM1012 1286h6v6h-6zM1030 1286h5v6h-5zM1012 1292h6v5h-6zM1018 1292h6v5h-6zM1024 1292h6v5h-6zM1012 1297h6v6h-6zM1078 1212h6v6h-6zM1078 1218h6v5h-6zM1084 1218h5v5h-5zM1089 1218h6v5h-6zM1078 1223h6v6h-6zM1084 1223h5v6h-5zM1095 1223h6v6h-6zM1101 1223h6v6h-6zM1078 1229h6v6h-6zM1107 1229h6v6h-6zM1078 1235h6v6h-6zM1113 1235h6v6h-6zM1119 1235h6v6h-6zM1078 1241h6v6h-6zM1119 1241h6v6h-6zM1078 1247h6v6h-6zM1113 1247h6v6h-6zM1119 1247h6v6h-6zM1078 1253h6v6h-6zM1101 1253h6v6h-6zM1107 1253h6v6h-6zM1078 1259h6v6h-6zM1095 1259h6v6h-6zM1078 1265h6v5h-6zM1084 1265h5v5h-5zM1089 1265h6v5h-6zM1078 1270h6v6h-6zM1144 1162h5v6h-5zM1144 1168h5v6h-5zM1149 1168h6v6h-6zM1155 1168h6v6h-6zM1144 1174h5v6h-5zM1149 1174h6v6h-6zM1161 1174h6v6h-6zM1167 1174h6v6h-6zM1144 1180h5v6h-5zM1173 1180h6v6h-6zM1144 1186h5v6h-5zM1179 1186h6v6h-6zM1185 1186h6v6h-6zM1144 1192h5v5h-5zM1185 1192h6v5h-6zM1144 1197h5v6h-5zM1179 1197h6v6h-6zM1185 1197h6v6h-6zM1144 1203h5v6h-5zM1167 1203h6v6h-6zM1173 1203h6v6h-6zM1144 1209h5v6h-5zM1161 1209h6v6h-6zM1144 1215h5v6h-5zM1149 1215h6v6h-6zM1155 1215h6v6h-6zM1144 1221h5v6h-5zM1208 1145h6v5h-6zM1208 1150h6v6h-6zM1214 1150h6v6h-6zM1220 1150h6v6h-6zM1208 1156h6v6h-6zM1214 1156h6v6h-6zM1226 1156h6v6h-6zM1232 1156h6v6h-6zM1208 1162h6v6h-6zM1238 1162h6v6h-6zM1208 1168h6v6h-6zM1244 1168h5v6h-5zM1249 1168h6v6h-6zM1208 1174h6v6h-6zM1249 1174h6v6h-6zM1208 1180h6v6h-6zM1244 1180h5v6h-5zM1249 1180h6v6h-6zM1208 1186h6v6h-6zM1232 1186h6v6h-6zM1238 1186h6v6h-6zM1208 1192h6v5h-6zM1226 1192h6v5h-6zM1208 1197h6v6h-6zM1214 1197h6v6h-6zM1220 1197h6v6h-6zM1208 1203h6v6h-6zM1273 1174h6v6h-6zM1273 1180h6v5h-6zM1279 1180h6v5h-6zM1285 1180h6v5h-6zM1273 1185h6v6h-6zM1279 1185h6v6h-6zM1291 1185h6v6h-6zM1297 1185h5v6h-5zM1273 1191h6v6h-6zM1302 1191h6v6h-6zM1273 1197h6v6h-6zM1308 1197h6v6h-6zM1314 1197h6v6h-6zM1273 1203h6v6h-6zM1314 1203h6v6h-6zM1273 1209h6v6h-6zM1308 1209h6v6h-6zM1314 1209h6v6h-6zM1273 1215h6v6h-6zM1297 1215h5v6h-5zM1302 1215h6v6h-6zM1273 1221h6v6h-6zM1291 1221h6v6h-6zM1273 1227h6v5h-6zM1279 1227h6v5h-6zM1285 1227h6v5h-6zM1273 1232h6v6h-6zM1338 1121h6v6h-6zM1338 1127h6v6h-6zM1344 1127h6v6h-6zM1350 1127h6v6h-6zM1338 1133h6v6h-6zM1344 1133h6v6h-6zM1356 1133h5v6h-5zM1361 1133h6v6h-6zM1338 1139h6v6h-6zM1367 1139h6v6h-6zM1338 1145h6v5h-6zM1373 1145h6v5h-6zM1379 1145h6v5h-6zM1338 1150h6v6h-6zM1379 1150h6v6h-6zM1338 1156h6v6h-6zM1373 1156h6v6h-6zM1379 1156h6v6h-6zM1338 1162h6v6h-6zM1361 1162h6v6h-6zM1367 1162h6v6h-6zM1338 1168h6v6h-6zM1356 1168h5v6h-5zM1338 1174h6v6h-6zM1344 1174h6v6h-6zM1350 1174h6v6h-6zM1338 1180h6v6h-6zM1403 1086h6v6h-6zM1403 1092h6v6h-6zM1409 1092h5v6h-5zM1414 1092h6v6h-6zM1403 1098h6v6h-6zM1409 1098h5v6h-5zM1420 1098h6v6h-6zM1426 1098h6v6h-6zM1403 1104h6v6h-6zM1432 1104h6v6h-6zM1403 1110h6v6h-6zM1438 1110h6v6h-6zM1444 1110h6v6h-6zM1403 1116h6v5h-6zM1444 1116h6v5h-6zM1403 1121h6v6h-6zM1438 1121h6v6h-6zM1444 1121h6v6h-6zM1403 1127h6v6h-6zM1426 1127h6v6h-6zM1432 1127h6v6h-6zM1403 1133h6v6h-6zM1420 1133h6v6h-6zM1403 1139h6v6h-6zM1409 1139h5v6h-5zM1414 1139h6v6h-6zM1403 1145h6v6h-6zM1468 1068h5v6h-5zM1468 1074h5v6h-5zM1473 1074h6v6h-6zM1479 1074h6v6h-6zM1468 1080h5v6h-5zM1473 1080h6v6h-6zM1485 1080h6v6h-6zM1491 1080h6v6h-6zM1468 1086h5v5h-5zM1497 1086h6v5h-6zM1468 1091h5v6h-5zM1503 1091h6v6h-6zM1509 1091h6v6h-6zM1468 1097h5v6h-5zM1509 1097h6v6h-6zM1468 1103h5v6h-5zM1503 1103h6v6h-6zM1509 1103h6v6h-6zM1468 1109h5v6h-5zM1491 1109h6v6h-6zM1497 1109h6v6h-6zM1468 1115h5v6h-5zM1485 1115h6v6h-6zM1468 1121h5v6h-5zM1473 1121h6v6h-6zM1479 1121h6v6h-6zM1468 1127h5v6h-5zM1535 1186h6v6h-6zM1535 1192h6v6h-6zM1541 1192h6v6h-6zM1547 1192h6v6h-6zM1535 1198h6v6h-6zM1541 1198h6v6h-6zM1553 1198h6v6h-6zM1559 1198h5v6h-5zM1535 1204h6v6h-6zM1564 1204h6v6h-6zM1535 1210h6v6h-6zM1570 1210h6v6h-6zM1576 1210h6v6h-6zM1535 1216h6v5h-6zM1576 1216h6v5h-6zM1535 1221h6v6h-6zM1570 1221h6v6h-6zM1576 1221h6v6h-6zM1535 1227h6v6h-6zM1559 1227h5v6h-5zM1564 1227h6v6h-6zM1535 1233h6v6h-6zM1553 1233h6v6h-6zM1535 1239h6v6h-6zM1541 1239h6v6h-6zM1547 1239h6v6h-6zM1535 1245h6v6h-6z"/>
<rect x="509" y="1591" width="6" height="18" fill="#000"/>
<rect x="509" y="963" width="6" height="11" fill="#000"/>
<rect x="832" y="1591" width="6" height="18" fill="#000"/>
<rect x="832" y="963" width="6" height="11" fill="#000"/>
<rect x="1161" y="1591" width="6" height="18" fill="#000"/>
<rect x="1161" y="963" width="6" height="11" fill="#000"/>
<rect x="1485" y="1591" width="6" height="18" fill="#000"/>
<rect x="1485" y="963" width="6" height="11" fill="#000"/>
<rect x="321" y="957" width="11" height="6" fill="#000"/>
<rect x="321" y="1174" width="11" height="6" fill="#000"/>
<rect x="321" y="1392" width="11" height="6" fill="#000"/>
<rect x="321" y="1609" width="11" height="6" fill="#000"/>
<rect x="315" y="957" width="1311" height="6" fill="#000"/>
<rect x="315" y="1609" width="1311" height="6" fill="#000"/>
<rect x="315" y="957" width="6" height="658" fill="#000"/>
<path fill="#ff00ff" d="M330 1227h6v6h-6zM341 1256h6v6h-6zM352 1286h6v6h-6zM362 1315h6v6h-6zM373 1344h6v6h-6zM388 1374h6v6h-6zM410 1403h6v6h-6zM432 1432h6v6h-6zM452 1438h6v6h-6zM470 1409h6v6h-6zM488 1379h6v6h-6zM506 1350h6v6h-6zM533 1342h6v6h-6zM562 1340h6v6h-6zM592 1342h6v6h-6zM621 1347h6v6h-6zM644 1337h6v6h-6zM657 1308h6v6h-6zM670 1278h6v6h-6zM683 1249h6v6h-6zM696 1220h6v6h-6zM710 1216h6v6h-6zM727 1245h6v6h-6zM744 1275h6v6h-6zM761 1304h6v6h-6zM786 1317h6v6h-6zM815 1319h6v6h-6zM845 1324h6v6h-6zM874 1332h6v6h-6zM901 1333h6v6h-6zM916 1303h6v6h-6zM931 1274h6v6h-6zM946 1244h6v6h-6zM961 1215h6v6h-6zM987 1230h6v6h-6zM1016 1256h6v6h-6zM1046 1253h6v6h-6zM1075 1227h6v6h-6zM1105 1200h6v6h-6zM1134 1171h6v6h-6zM1163 1147h6v6h-6zM1193 1168h6v6h-6zM1222 1189h6v6h-6zM1252 1178h6v6h-6zM1281 1162h6v6h-6zM1310 1176h6v6h-6zM1340 1205h6v6h-6zM1364 1235h6v6h-6zM1384 1264h6v6h-6zM1403 1294h6v6h-6zM1422 1318h6v6h-6zM1439 1289h6v6h-6zM1456 1259h6v6h-6zM1473 1230h6v6h-6zM1494 1208h6v6h-6zM1523 1206h6v6h-6zM1552 1204h6v6h-6zM1582 1181h6v6h-6zM1611 1158h6v6h-6z"/>
<path fill="#ff00ff" d="M315 1162h6v6h-6zM315 1168h6v6h-6zM315 1174h6v6h-6zM315 1180h6v6h-6zM292 1186h5v6h-5zM297 1186h6v6h-6zM303 1186h6v6h-6zM309 1186h6v6h-6zM315 1186h6v6h-6zM321 1186h6v6h-6zM327 1186h6v6h-6zM333 1186h6v6h-6zM339 1186h5v6h-5zM315 1192h6v6h-6zM315 1198h6v5h-6zM315 1203h6v6h-6zM315 1209h6v6h-6zM380 1338h6v6h-6zM380 1344h6v6h-6zM380 1350h6v6h-6zM380 1356h6v6h-6zM356 1362h6v6h-6zM362 1362h6v6h-6zM368 1362h6v6h-6zM374 1362h6v6h-6zM380 1362h6v6h-6zM386 1362h5v6h-5zM391 1362h6v6h-6zM397 1362h6v6h-6zM403 1362h6v6h-6zM380 1368h6v6h-6zM380 1374h6v6h-6zM380 1380h6v5h-6zM380 1385h6v6h-6zM444 1427h6v5h-6zM444 1432h6v6h-6zM444 1438h6v6h-6zM444 1444h6v6h-6zM421 1450h6v6h-6zM427 1450h6v6h-6zM433 1450h6v6h-6zM439 1450h5v6h-5zM444 1450h6v6h-6zM450 1450h6v6h-6zM456 1450h6v6h-6zM462 1450h6v6h-6zM468 1450h6v6h-6zM444 1456h6v6h-6zM444 1462h6v6h-6zM444 1468h6v6h-6zM444 1474h6v5h-6zM509 1321h6v6h-6zM509 1327h6v6h-6zM509 1333h6v6h-6zM509 1339h6v6h-6zM486 1345h5v5h-5zM491 1345h6v5h-6zM497 1345h6v5h-6zM503 1345h6v5h-6zM509 1345h6v5h-6zM515 1345h6v5h-6zM521 1345h6v5h-6zM527 1345h6v5h-6zM533 1345h5v5h-5zM509 1350h6v6h-6zM509 1356h6v6h-6zM509 1362h6v6h-6zM509 1368h6v6h-6zM574 1315h6v6h-6zM574 1321h6v6h-6zM574 1327h6v6h-6zM574 1333h6v6h-6zM550 1339h6v5h-6zM556 1339h6v5h-6zM562 1339h6v5h-6zM568 1339h6v5h-6zM574 1339h6v5h-6zM580 1339h5v5h-5zM585 1339h6v5h-6zM591 1339h6v5h-6zM597 1339h6v5h-6zM574 1344h6v6h-6zM574 1350h6v6h-6zM574 1356h6v6h-6zM574 1362h6v6h-6zM638 1326h6v6h-6zM638 1332h6v6h-6zM638 1338h6v6h-6zM638 1344h6v6h-6zM615 1350h6v5h-6zM621 1350h5v5h-5zM626 1350h6v5h-6zM632 1350h6v5h-6zM638 1350h6v5h-6zM644 1350h6v5h-6zM650 1350h6v5h-6zM656 1350h6v5h-6zM662 1350h6v5h-6zM638 1355h6v6h-6zM638 1361h6v6h-6zM638 1367h6v6h-6zM638 1373h6v6h-6zM703 1180h6v5h-6zM703 1185h6v6h-6zM703 1191h6v6h-6zM703 1197h6v6h-6zM679 1203h6v6h-6zM685 1203h6v6h-6zM691 1203h6v6h-6zM697 1203h6v6h-6zM703 1203h6v6h-6zM709 1203h6v6h-6zM715 1203h5v6h-5zM720 1203h6v6h-6zM726 1203h6v6h-6zM703 1209h6v6h-6zM703 1215h6v6h-6zM703 1221h6v6h-6zM703 1227h6v5h-6zM767 1292h6v5h-6zM767 1297h6v6h-6zM767 1303h6v6h-6zM767 1309h6v6h-6zM744 1315h6v6h-6zM750 1315h6v6h-6zM756 1315h6v6h-6zM762 1315h5v6h-5zM767 1315h6v6h-6zM773 1315h6v6h-6zM779 1315h6v6h-6zM785 1315h6v6h-6zM791 1315h6v6h-6zM767 1321h6v6h-6zM767 1327h6v6h-6zM767 1333h6v6h-6zM767 1339h6v5h-6zM832 1297h6v6h-6zM832 1303h6v6h-6zM832 1309h6v6h-6zM832 1315h6v6h-6zM809 1321h5v6h-5zM814 1321h6v6h-6zM820 1321h6v6h-6zM826 1321h6v6h-6zM832 1321h6v6h-6zM838 1321h6v6h-6zM844 1321h6v6h-6zM850 1321h6v6h-6zM856 1321h5v6h-5zM832 1327h6v6h-6zM832 1333h6v5h-6zM832 1338h6v6h-6zM832 1344h6v6h-6zM898 1315h6v6h-6zM898 1321h6v6h-6zM898 1327h6v5h-6zM898 1332h6v6h-6zM874 1338h6v6h-6zM880 1338h6v6h-6zM886 1338h6v6h-6zM892 1338h6v6h-6zM898 1338h6v6h-6zM904 1338h6v6h-6zM910 1338h5v6h-5zM915 1338h6v6h-6zM921 1338h6v6h-6zM898 1344h6v6h-6zM898 1350h6v6h-6zM898 1356h6v6h-6zM898 1362h6v6h-6zM964 1186h6v5h-6zM964 1191h6v6h-6zM964 1197h6v6h-6zM964 1203h6v6h-6zM940 1209h6v6h-6zM946 1209h6v6h-6zM952 1209h6v6h-6zM958 1209h6v6h-6zM964 1209h6v6h-6zM970 1209h5v6h-5zM975 1209h6v6h-6zM981 1209h6v6h-6zM987 1209h6v6h-6zM964 1215h6v6h-6zM964 1221h6v6h-6zM964 1227h6v6h-6zM964 1233h6v5h-6zM1029 1244h6v6h-6zM1029 1250h6v6h-6zM1029 1256h6v6h-6zM1029 1262h6v6h-6zM1006 1268h6v5h-6zM1012 1268h6v5h-6zM1018 1268h6v5h-6zM1024 1268h5v5h-5zM1029 1268h6v5h-6zM1035 1268h6v5h-6zM1041 1268h6v5h-6zM1047 1268h6v5h-6zM1053 1268h6v5h-6zM1029 1273h6v6h-6zM1029 1279h6v6h-6zM1029 1285h6v6h-6zM1029 1291h6v6h-6zM1095 1186h6v5h-6zM1095 1191h6v6h-6zM1095 1197h6v6h-6zM1095 1203h6v6h-6zM1072 1209h6v6h-6zM1078 1209h6v6h-6zM1084 1209h5v6h-5zM1089 1209h6v6h-6zM1095 1209h6v6h-6zM1101 1209h6v6h-6zM1107 1209h6v6h-6zM1113 1209h6v6h-6zM1119 1209h6v6h-6zM1095 1215h6v6h-6zM1095 1221h6v6h-6zM1095 1227h6v6h-6zM1095 1233h6v5h-6zM1161 1122h6v5h-6zM1161 1127h6v6h-6zM1161 1133h6v6h-6zM1161 1139h6v6h-6zM1138 1145h5v6h-5zM1143 1145h6v6h-6zM1149 1145h6v6h-6zM1155 1145h6v6h-6zM1161 1145h6v6h-6zM1167 1145h6v6h-6zM1173 1145h6v6h-6zM1179 1145h6v6h-6zM1185 1145h5v6h-5zM1161 1151h6v6h-6zM1161 1157h6v6h-6zM1161 1163h6v6h-6zM1161 1169h6v5h-6zM1226 1168h6v6h-6zM1226 1174h6v6h-6zM1226 1180h6v6h-6zM1226 1186h6v6h-6zM1202 1192h6v6h-6zM1208 1192h6v6h-6zM1214 1192h6v6h-6zM1220 1192h6v6h-6zM1226 1192h6v6h-6zM1232 1192h6v6h-6zM1238 1192h6v6h-6zM1244 1192h5v6h-5zM1249 1192h6v6h-6zM1226 1198h6v6h-6zM1226 1204h6v5h-6zM1226 1209h6v6h-6zM1226 1215h6v6h-6zM1291 1133h6v6h-6zM1291 1139h6v6h-6zM1291 1145h6v5h-6zM1291 1150h6v6h-6zM1267 1156h6v6h-6zM1273 1156h6v6h-6zM1279 1156h6v6h-6zM1285 1156h6v6h-6zM1291 1156h6v6h-6zM1297 1156h5v6h-5zM1302 1156h6v6h-6zM1308 1156h6v6h-6zM1314 1156h6v6h-6zM1291 1162h6v6h-6zM1291 1168h6v6h-6zM1291 1174h6v6h-6zM1291 1180h6v6h-6zM1355 1197h6v6h-6zM1355 1203h6v6h-6zM1355 1209h6v6h-6zM1355 1215h6v6h-6zM1332 1221h6v6h-6zM1338 1221h6v6h-6zM1344 1221h6v6h-6zM1350 1221h5v6h-5zM1355 1221h6v6h-6zM1361 1221h6v6h-6zM1367 1221h6v6h-6zM1373 1221h6v6h-6zM1379 1221h6v6h-6zM1355 1227h6v6h-6zM1355 1233h6v6h-6zM1355 1239h6v5h-6zM1355 1244h6v6h-6zM1420 1297h6v6h-6zM1420 1303h6v6h-6zM1420 1309h6v6h-6zM1420 1315h6v6h-6zM1397 1321h6v5h-6zM1403 1321h5v5h-5zM1408 1321h6v5h-6zM1414 1321h6v5h-6zM1420 1321h6v5h-6zM1426 1321h6v5h-6zM1432 1321h6v5h-6zM1438 1321h6v5h-6zM1444 1321h6v5h-6zM1420 1326h6v6h-6zM1420 1332h6v6h-6zM1420 1338h6v6h-6zM1420 1344h6v6h-6zM1485 1186h6v5h-6zM1485 1191h6v6h-6zM1485 1197h6v6h-6zM1485 1203h6v6h-6zM1462 1209h5v6h-5zM1467 1209h6v6h-6zM1473 1209h6v6h-6zM1479 1209h6v6h-6zM1485 1209h6v6h-6zM1491 1209h6v6h-6zM1497 1209h6v6h-6zM1503 1209h6v6h-6zM1509 1209h5v6h-5zM1485 1215h6v6h-6zM1485 1221h6v6h-6zM1485 1227h6v6h-6zM1485 1233h6v5h-6zM1553 1180h5v6h-5zM1553 1186h5v6h-5zM1553 1192h5v6h-5zM1553 1198h5v6h-5zM1529 1204h6v6h-6zM1535 1204h6v6h-6zM1541 1204h6v6h-6zM1547 1204h6v6h-6zM1553 1204h5v6h-5zM1558 1204h6v6h-6zM1564 1204h6v6h-6zM1570 1204h6v6h-6zM1576 1204h6v6h-6zM1553 1210h5v5h-5zM1553 1215h5v6h-5zM1553 1221h5v6h-5zM1553 1227h5v6h-5zM1620 1128h6v5h-6zM1620 1133h6v6h-6zM1620 1139h6v6h-6zM1620 1145h6v6h-6zM1597 1151h5v6h-5zM1602 1151h6v6h-6zM1608 1151h6v6h-6zM1614 1151h6v6h-6zM1620 1151h6v6h-6zM1626 1151h6v6h-6zM1632 1151h6v6h-6zM1638 1151h6v6h-6zM1644 1151h5v6h-5zM1620 1157h6v6h-6zM1620 1163h6v6h-6zM1620 1169h6v6h-6zM1620 1175h6v5h-6z"/>
<rect x="1620" y="957" width="6" height="658" fill="#ff00ff"/>
<rect x="1602" y="957" width="18" height="6" fill="#ff00ff"/>
<rect x="1602" y="1174" width="18" height="6" fill="#ff00ff"/>
<rect x="1602" y="1392" width="18" height="6" fill="#ff00ff"/>
<rect x="1602" y="1609" width="18" height="6" fill="#ff00ff"/>
<g shape-rendering="auto">
<text transform="translate(128.15 85.64) scale(0.6758 0.7647)" font-size="100" fill="#0000ff">0.16</text>
<text transform="translate(128.18 249.64) scale(0.6699 0.7588)" font-size="100" fill="#0000ff">0.14</text>
<text transform="translate(128.15 425.84) scale(0.6758 0.7588)" font-size="100" fill="#0000ff">0.12</text>
<text transform="translate(170.34 596.44) scale(0.6260 0.7588)" font-size="100" fill="#0000ff">0.1</text>
<text transform="translate(128.15 766.54) scale(0.6758 0.7647)" font-size="100" fill="#0000ff">0.08</text>
<text transform="translate(1632.08 86.40) scale(0.4167 0.7879)" font-size="100" fill="#ff0000">1</text>
<text transform="translate(1627.72 256.22) scale(0.6637 0.7794)" font-size="100" fill="#ff0000">0.5</text>
<text transform="translate(1628.23 425.84) scale(0.5792 0.7588)" font-size="100" fill="#ff0000">0</text>
<text transform="translate(1621.43 596.24) scale(0.6956 0.7559)" font-size="100" fill="#ff0000">−0.5</text>
<text transform="translate(1621.72 768.00) scale(0.6459 0.7879)" font-size="100" fill="#ff0000">−1</text>
<text transform="translate(457.24 825.62) scale(0.6365 0.7821)" font-size="100" fill="#000000">145</text>
<text transform="translate(780.37 825.63) scale(0.6335 0.7706)" font-size="100" fill="#000000">150</text>
<text transform="translate(1103.34 825.81) scale(0.6365 0.7851)" font-size="100" fill="#000000">155</text>
<text transform="translate(1427.25 825.83) scale(0.6353 0.7735)" font-size="100" fill="#000000">160</text>
<text transform="translate(247.73 979.80) scale(0.6540 0.8000)" font-size="100" fill="#000000">4</text>
<text transform="translate(251.59 1197.00) scale(0.6304 0.7806)" font-size="100" fill="#000000">2</text>
<text transform="translate(251.41 1414.85) scale(0.5979 0.7500)" font-size="100" fill="#000000">0</text>
<text transform="translate(204.74 1633.00) scale(0.7103 0.7910)" font-size="100" fill="#000000">−2</text>
<text transform="translate(1632.81 978.83) scale(0.6991 0.7706)" font-size="100" fill="#ff00ff">−6.5</text>
<text transform="translate(1632.65 1197.90) scale(0.7255 0.8015)" font-size="100" fill="#ff00ff">−7</text>
<text transform="translate(1632.82 1413.43) scale(0.6974 0.7687)" font-size="100" fill="#ff00ff">−7.5</text>
<text transform="translate(1632.74 1632.22) scale(0.7103 0.7794)" font-size="100" fill="#ff00ff">−8</text>
<text transform="translate(457.56 1690.23) scale(0.6341 0.7731)" font-size="100" fill="#000000">145</text>
<text transform="translate(779.51 1690.24) scale(0.6407 0.7618)" font-size="100" fill="#000000">150</text>
<text transform="translate(1108.28 1690.23) scale(0.6461 0.7731)" font-size="100" fill="#000000">155</text>
<text transform="translate(1432.54 1690.24) scale(0.6365 0.7618)" font-size="100" fill="#000000">160</text>
<text transform="translate(891.22 1796.22) scale(0.7229 0.7794)" font-size="100" fill="#000000">DOY</text>
<text transform="translate(995.42 1520.80) scale(0.6921 0.7075)" font-size="100" fill="#000000">Year</text>
<text transform="translate(1203.08 1520.02) scale(0.6749 0.7794)" font-size="100" fill="#000000">2013</text>
<text transform="translate(86.00 800.61) rotate(-90) scale(0.6774 0.6887)" font-size="100" fill="#0000ff">Soil Moisture (pct)</text>
<text transform="translate(1855.00 729.00) rotate(-90) scale(0.6739 0.6887)" font-size="100" fill="#ff0000">Snow Depth (cm)</text>
<text transform="translate(168.00 1711.48) rotate(-90) scale(0.6692 0.6887)" font-size="100" fill="#000000">Soil Temperature (°C)</text>
<text transform="translate(1867.70 1576.90) rotate(-90) scale(0.6689 0.7547)" font-size="100" fill="#ff00ff">AvgDetrSNR(dB)</text>
</g>
</svg></body></html>
